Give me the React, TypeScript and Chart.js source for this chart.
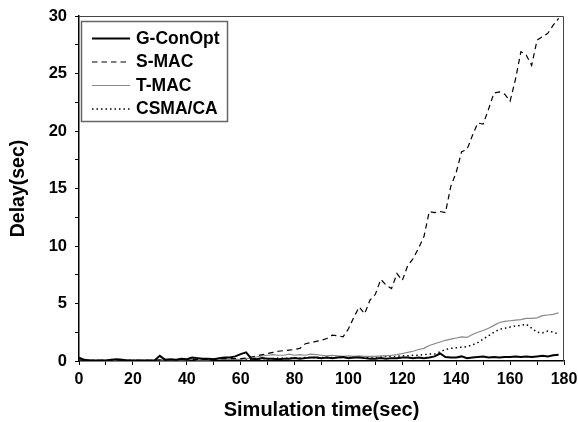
import React, { useEffect, useRef } from "react";
import Chart from "chart.js/auto";

const times: number[] = [
  0, 2, 4, 6, 8, 10, 12, 14, 16, 18, 20, 22, 24, 26, 28, 30, 32, 34, 36, 38,
  40, 42, 44, 46, 48, 50, 52, 54, 56, 58, 60, 62, 64, 66, 68, 70, 72, 74, 76, 78,
  80, 82, 84, 86, 88, 90, 92, 94, 96, 98, 100, 102, 104, 106, 108, 110, 112, 114, 116, 118,
  120, 122, 124, 126, 128, 130, 132, 134, 136, 138, 140, 142, 144, 146, 148, 150, 152, 154, 156, 158,
  160, 162, 164, 166, 168, 170, 172, 174, 176, 178,
];

const gConOpt: number[] = [
  0.3, 0.1, 0.05, 0.05, 0.05, 0.05, 0.1, 0.15, 0.1, 0.05, 0.05, 0.05, 0.05, 0.05, 0.05, 0.45, 0.1, 0.15, 0.1, 0.2,
  0.15, 0.3, 0.25, 0.2, 0.2, 0.15, 0.25, 0.3, 0.3, 0.4, 0.6, 0.75, 0.2, 0.15, 0.25, 0.2, 0.2, 0.15, 0.2, 0.2,
  0.25, 0.2, 0.25, 0.3, 0.3, 0.25, 0.3, 0.25, 0.3, 0.35, 0.25, 0.3, 0.3, 0.25, 0.2, 0.2, 0.25, 0.2, 0.25, 0.25,
  0.3, 0.3, 0.25, 0.3, 0.25, 0.3, 0.4, 0.65, 0.35, 0.3, 0.3, 0.4, 0.25, 0.3, 0.35, 0.4, 0.3, 0.35, 0.3, 0.35,
  0.35, 0.4, 0.35, 0.4, 0.35, 0.4, 0.45, 0.4, 0.5, 0.55,
];

const sMac: number[] = [
  0.1, 0.05, 0.05, 0.05, 0.05, 0.05, 0.05, 0.1, 0.05, 0.05, 0.05, 0.05, 0.05, 0.05, 0.05, 0.1, 0.15, 0.1, 0.1, 0.15,
  0.1, 0.15, 0.15, 0.15, 0.15, 0.15, 0.2, 0.2, 0.2, 0.2, 0.2, 0.25, 0.35, 0.45, 0.55, 0.65, 0.75, 0.85, 0.9, 0.95,
  1.0, 1.1, 1.5, 1.6, 1.7, 1.8, 1.95, 2.25, 2.2, 2.1, 2.8, 3.8, 4.7, 4.1, 5.3, 5.8, 7.1, 6.6, 6.3, 7.6,
  7.0, 8.3, 8.9, 9.8, 10.8, 13.0, 12.9, 13.0, 12.9, 15.2, 16.4, 18.2, 18.4, 19.6, 20.7, 20.6, 21.9, 23.3, 23.4, 23.2,
  22.6, 24.5, 26.9, 26.6, 25.7, 27.9, 28.2, 28.5, 29.2, 29.8,
];

const tMac: number[] = [
  0.1, 0.05, 0.05, 0.05, 0.05, 0.05, 0.05, 0.1, 0.05, 0.05, 0.05, 0.05, 0.05, 0.05, 0.05, 0.1, 0.1, 0.1, 0.1, 0.1,
  0.1, 0.15, 0.1, 0.1, 0.1, 0.15, 0.15, 0.15, 0.15, 0.15, 0.15, 0.2, 0.25, 0.35, 0.45, 0.5, 0.55, 0.5, 0.5, 0.6,
  0.5, 0.55, 0.5, 0.6, 0.55, 0.5, 0.45, 0.5, 0.45, 0.4, 0.45, 0.4, 0.45, 0.4, 0.4, 0.4, 0.45, 0.45, 0.5, 0.55,
  0.65, 0.75, 0.85, 1.0, 1.1, 1.35, 1.5, 1.65, 1.8, 1.9, 2.0, 2.1, 2.05, 2.3, 2.5, 2.65, 2.85, 3.1, 3.35, 3.45,
  3.5, 3.55, 3.6, 3.7, 3.7, 3.75, 3.95, 4.0, 4.05, 4.2,
];

const csmaCa: number[] = [
  0.05, 0.05, 0.05, 0.05, 0.05, 0.05, 0.05, 0.05, 0.05, 0.05, 0.05, 0.05, 0.05, 0.05, 0.05, 0.1, 0.1, 0.1, 0.1, 0.1,
  0.1, 0.1, 0.1, 0.1, 0.1, 0.1, 0.1, 0.1, 0.1, 0.1, 0.1, 0.15, 0.15, 0.2, 0.2, 0.2, 0.2, 0.25, 0.25, 0.25,
  0.25, 0.25, 0.3, 0.3, 0.3, 0.3, 0.3, 0.3, 0.3, 0.3, 0.3, 0.3, 0.3, 0.3, 0.35, 0.35, 0.35, 0.4, 0.4, 0.4,
  0.45, 0.45, 0.5, 0.5, 0.55, 0.6, 0.6, 0.8, 1.0, 1.1, 1.15, 1.2, 1.25, 1.4, 1.6, 1.9, 2.2, 2.5, 2.75, 2.85,
  2.95, 3.05, 3.1, 3.2, 2.85, 2.5, 2.45, 2.6, 2.5, 2.35,
];

const seriesNames: string[] = ["G-ConOpt", "S-MAC", "T-MAC", "CSMA/CA"];

const FONT = "'Liberation Sans', Arial, sans-serif";

const toPoints = (ys: number[]) => ys.map((y, i) => ({ x: times[i], y }));

const frameAndLegend = {
  id: "frameAndLegend",
  afterDraw(chart: any) {
    const { ctx, chartArea: a } = chart;
    ctx.save();
    ctx.strokeStyle = "#444";
    ctx.lineWidth = 1;
    ctx.beginPath();
    ctx.moveTo(a.left, a.top + 0.5);
    ctx.lineTo(a.right - 0.5, a.top + 0.5);
    ctx.lineTo(a.right - 0.5, a.bottom);
    ctx.stroke();

    const bx = a.left + 2;
    const by = a.top + 5;
    ctx.fillStyle = "#fff";
    ctx.fillRect(bx, by, 146, 100);
    ctx.strokeStyle = "#666";
    ctx.lineWidth = 1.5;
    ctx.strokeRect(bx + 0.5, by + 0.5, 146, 100);

    chart.data.datasets.forEach((ds: any, i: number) => {
      const y = a.top + 22.5 + i * 23.5;
      ctx.save();
      ctx.strokeStyle = ds.borderColor;
      ctx.lineWidth = ds.borderWidth;
      ctx.setLineDash(ds.borderDash || []);
      ctx.beginPath();
      ctx.moveTo(a.left + 13, y);
      ctx.lineTo(a.left + 51, y);
      ctx.stroke();
      ctx.restore();
      ctx.fillStyle = "#000";
      ctx.font = `bold 17.5px ${FONT}`;
      ctx.textBaseline = "middle";
      ctx.textAlign = "left";
      ctx.fillText(ds.label, a.left + 57, y + 0.5);
    });
    ctx.restore();
  },
};

export default function App() {
  const ref = useRef<HTMLCanvasElement | null>(null);

  useEffect(() => {
    document.body.style.margin = "0";
    const canvas = ref.current;
    if (!canvas) return;
    const chart = new Chart(canvas, {
      type: "line",
      data: {
        datasets: [
          {
            label: seriesNames[0],
            data: toPoints(gConOpt),
            borderColor: "#000",
            borderWidth: 2,
            pointRadius: 0,
            tension: 0,
          },
          {
            label: seriesNames[1],
            data: toPoints(sMac),
            borderColor: "#000",
            borderWidth: 1.2,
            borderDash: [5.5, 4],
            pointRadius: 0,
            tension: 0,
          },
          {
            label: seriesNames[2],
            data: toPoints(tMac),
            borderColor: "#888",
            borderWidth: 1.2,
            pointRadius: 0,
            tension: 0,
          },
          {
            label: seriesNames[3],
            data: toPoints(csmaCa),
            borderColor: "#000",
            borderWidth: 1.5,
            borderDash: [1.5, 3],
            pointRadius: 0,
            tension: 0,
          },
        ],
      },
      options: {
        animation: false,
        responsive: false,
        devicePixelRatio: 1,
        layout: { padding: { left: 0, top: 16, right: 14, bottom: 0 } },
        plugins: { legend: { display: false }, tooltip: { enabled: false } },
        scales: {
          x: {
            type: "linear",
            min: 0,
            max: 180,
            afterFit: (s: any) => {
              s.height = 61;
              s.paddingRight = 0;
              s.paddingLeft = 0;
            },
            ticks: {
              stepSize: 10,
              autoSkip: false,
              maxRotation: 0,
              padding: 5,
              color: "#000",
              font: { family: FONT, size: 16, weight: "bold" },
              callback: (v: any) => (Number(v) % 20 === 0 ? String(v) : ""),
            },
            grid: {
              drawOnChartArea: false,
              drawTicks: true,
              tickLength: 4,
              color: "#000",
              lineWidth: 1,
            },
            border: { display: true, color: "#000", width: 1.5 },
            title: {
              display: true,
              text: "Simulation time(sec)",
              color: "#000",
              font: { family: FONT, size: 20, weight: "bold" },
              padding: { top: 0, bottom: 0 },
            },
          },
          y: {
            min: 0,
            max: 30,
            afterFit: (s: any) => {
              s.width = 79;
              s.paddingTop = 0;
              s.paddingBottom = 0;
            },
            ticks: {
              stepSize: 2.5,
              autoSkip: false,
              padding: 8,
              color: "#000",
              font: { family: FONT, size: 16.5, weight: "bold" },
              callback: (v: any) => (Number(v) % 5 === 0 ? String(v) : ""),
            },
            grid: {
              drawOnChartArea: false,
              drawTicks: true,
              tickLength: 4,
              color: "#000",
              lineWidth: 1,
            },
            border: { display: true, color: "#000", width: 1.5 },
            title: {
              display: true,
              text: "Delay(sec)",
              color: "#000",
              font: { family: FONT, size: 19.5, weight: "bold" },
              padding: { top: 7, bottom: 0 },
            },
          },
        },
      },
      plugins: [frameAndLegend],
    });
    return () => chart.destroy();
  }, []);

  return (
    <div style={{ width: 578, height: 422 }}>
      <canvas ref={ref} width={578} height={422} style={{ display: "block" }} />
    </div>
  );
}
